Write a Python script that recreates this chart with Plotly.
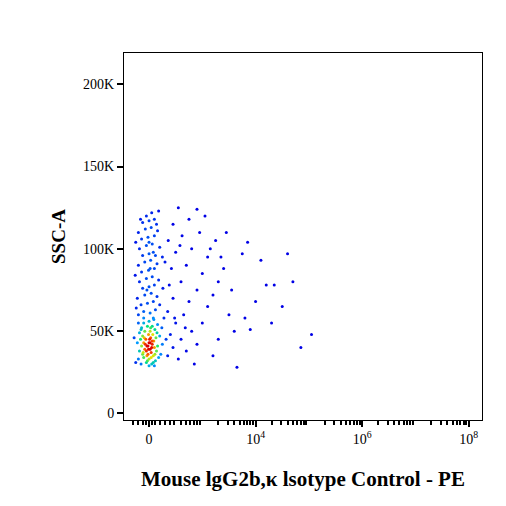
import numpy as np
import plotly.graph_objects as go

core = [(-0.15,30),(-0.05,31),(0.05,30),(0.12,32),(-0.2,33),(-0.1,34),(0,33),(0.08,35),(0.18,34),(-0.12,36),
(-0.02,36),(0.04,37),(0.14,38),(-0.18,38),(-0.08,39),(0.02,39),(0.1,40),(-0.14,41),(-0.04,41),(0.06,42),
(0.16,41),(-0.22,43),(-0.1,43),(0,43),(0.09,44),(-0.16,45),(-0.06,45),(0.03,46),(0.13,46),(-0.12,47),
(-0.01,48),(0.07,48),(0.2,47),(-0.18,49),(-0.08,50),(0.02,50),(0.11,51),(-0.14,52),(-0.03,53),(0.06,53),
(0.16,54),(-0.2,55),(-0.1,55),(0,56),(0.09,57),(-0.05,38),(0.05,40),(-0.07,42),(0.01,45),(0.04,34),
(-0.03,32),(0.08,31),(-0.11,37),(0.11,36),(-0.01,39),(0.06,44),(-0.09,46),(0.03,52),(0.15,49),(-0.15,51),
(0.0,29),(0.1,29),(-0.25,31),(0.22,36),(0.25,42),(-0.28,46),(0.24,52),(-0.02,41),(0.02,43),(-0.04,35)]
column = [(-0.2,60),(-0.1,62),(0.02,61),(0.12,63),(-0.15,66),(-0.03,67),(0.08,68),(0.2,66),(-0.22,70),(-0.08,72),
(0.04,73),(0.15,71),(-0.12,76),(0,77),(0.1,78),(-0.18,80),(-0.05,82),(0.06,83),(0.18,81),(-0.14,86),
(-0.01,87),(0.1,88),(-0.2,90),(-0.08,92),(0.03,93),(0.15,91),(-0.12,96),(0,97),(0.08,98),(-0.18,100),
(-0.05,102),(0.06,103),(0.2,101),(-0.14,106),(-0.02,107),(0.1,108),(-0.2,110),(-0.07,112),(0.04,113),(0.16,111),
(-0.12,116),(0.0,117),(0.1,118),(-0.05,120),(0.05,122),(-0.16,118),(0.14,115),(-0.25,104),(0.25,95),(-0.26,84),
(0.26,76),(-0.24,64),(0.28,58),(0.0,104),(-0.1,58),(0.08,58),(0.02,88),(-0.04,75),(0.12,96),(0.18,123)]
spread = [(0.35,35),(0.45,40),(0.55,33),(0.4,48),(0.6,45),(0.7,38),(0.5,55),(0.8,50),(0.9,42),(0.35,62),
(0.65,60),(1.0,55),(0.45,70),(0.75,68),(1.1,65),(0.38,78),(0.6,80),(0.9,75),(1.2,72),(0.42,88),
(0.7,90),(1.0,85),(1.3,80),(0.5,98),(0.8,100),(1.1,95),(0.36,105),(0.62,108),(0.95,110),(1.25,105),
(0.45,115),(0.75,118),(1.05,120),(0.55,125),(0.9,124),(1.45,110),(1.4,88),(1.5,60),(1.3,45),(1.6,50),
(1.2,35),(0.85,30),(1.55,75),(1.15,100),(0.3,92),(0.32,45),(0.48,58),(0.68,52),(0.58,102),(1.35,95)]
outliers = [(1.8,58),(1.9,51),(2.1,93),(1.75,97),(2.2,78),(2.5,65),(2.35,78),(2.6,97),(3.05,48),(2.85,40),
(2.7,80),(1.65,28),(2.0,68),(1.85,104),(2.3,55)]

x_tick_vals = [0, 2, 4, 6]
x_tick_text = ["0", "10<sup>4</sup>", "10<sup>6</sup>", "10<sup>8</sup>"]
y_tick_vals = [0, 50, 100, 150, 200]
y_tick_text = ["0", "50K", "100K", "150K", "200K"]

pts = np.array(core + column + spread + outliers, dtype=float)
x, y = pts[:, 0], pts[:, 1]
dx = (x[:, None] - x[None, :]) / 0.12
dy = (y[:, None] - y[None, :]) / 6.0
dens = np.exp(-(dx**2 + dy**2) / 2).sum(1)
cval = (dens / dens.max()) ** 1.4
order = np.argsort(cval)

minor = []
for d in range(1, 7):
    for k in range(2, 10):
        v = d + np.log10(k) - 1
        if v > 0.35:
            minor.append(v)
minor += [-0.3, -0.2, -0.12, -0.06, 0.06, 0.12, 0.2, 0.3, 0.4]

cscale = [[0, "rgb(0,0,230)"], [0.35, "rgb(0,160,255)"], [0.55, "rgb(0,230,120)"],
          [0.75, "rgb(230,230,0)"], [0.9, "rgb(255,90,0)"], [1, "rgb(220,0,0)"]]

fig = go.Figure(go.Scatter(
    x=x[order], y=y[order], mode="markers",
    marker=dict(size=3, color=cval[order], colorscale=cscale, cmin=0.02, cmax=0.95),
    hoverinfo="skip"))

fig.update_layout(
    width=506, height=506, paper_bgcolor="white", plot_bgcolor="white",
    margin=dict(l=116, r=32, t=45, b=94), showlegend=False,
    font=dict(family="Liberation Serif", color="black"),
    xaxis=dict(range=[-0.47, 6.25], tickvals=x_tick_vals, ticktext=x_tick_text,
               ticks="outside", ticklen=6, tickwidth=1.5, tickcolor="black",
               showline=True, linecolor="black", linewidth=1, mirror=True, showgrid=False, zeroline=False,
               tickfont=dict(size=14),
               minor=dict(tickvals=minor, ticks="outside", ticklen=4, tickcolor="black"),
               title=dict(text="<b>Mouse lgG2b,κ lsotype Control - PE</b>", font=dict(size=21), standoff=25)),
    yaxis=dict(range=[-4, 219], tickvals=y_tick_vals, ticktext=y_tick_text,
               ticks="outside", ticklen=6, tickwidth=1.5, tickcolor="black",
               showline=True, linecolor="black", linewidth=1, mirror=True, showgrid=False, zeroline=False,
               tickfont=dict(size=14),
               title=dict(text="<b>SSC-A</b>", font=dict(size=19), standoff=12)),
)
fig.write_html("out.html")
